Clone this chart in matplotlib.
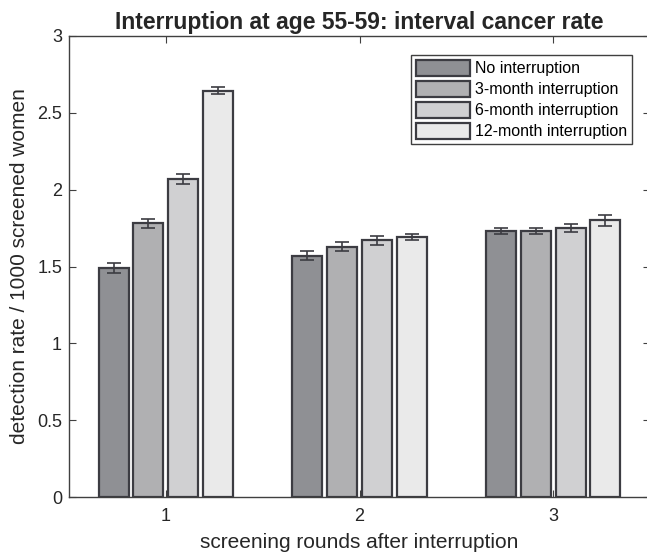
import matplotlib.pyplot as plt
import numpy as np

plt.rcParams['font.family'] = ['Liberation Sans', 'DejaVu Sans']

rounds = [1, 2, 3]
series_names = ['No interruption', '3-month interruption',
                '6-month interruption', '12-month interruption']
rates = [
    [1.49, 1.57, 1.73],
    [1.78, 1.63, 1.73],
    [2.07, 1.67, 1.75],
    [2.645, 1.69, 1.80],
]
errors = [
    [0.03, 0.03, 0.02],
    [0.03, 0.03, 0.02],
    [0.03, 0.03, 0.025],
    [0.02, 0.02, 0.035],
]
colors = ['#8f9094', '#b0b0b2', '#d0d0d2', '#eaeaea']
edge = '#3c3c42'

fig = plt.figure(figsize=(6.47, 5.55), dpi=100)
# right spine sits just past the image edge, as in the reference crop
ax = fig.add_axes([69 / 647, 1 - 497 / 555, 581 / 647, 461 / 555])

x = np.array(rounds, dtype=float)
step = 0.18
width = 0.155
for i, (name, vals, err, c) in enumerate(zip(series_names, rates, errors, colors)):
    pos = x + (i - 1.5) * step
    ax.bar(pos, vals, width, color=c, edgecolor=edge, linewidth=1.6, label=name)
    ax.errorbar(pos, vals, yerr=err, fmt='none', ecolor=edge, elinewidth=1.2,
                capsize=5, capthick=1.2)

ax.set_xlim(0.5, 3.5)
ax.set_ylim(0, 3)
ax.set_xticks(rounds)
ax.set_yticks([0, 0.5, 1, 1.5, 2, 2.5, 3])
ax.set_yticklabels(['0', '0.5', '1', '1.5', '2', '2.5', '3'])
ax.tick_params(direction='in', top=True, right=True, labelsize=13,
               colors='#404040', labelcolor='#262626', length=5)
ax.tick_params(axis='x', pad=8)
ax.tick_params(axis='y', pad=5)
for s in ax.spines.values():
    s.set_color('#404040')
    s.set_linewidth(1.0)

ax.set_xlabel('screening rounds after interruption', fontsize=15,
              color='#262626', labelpad=6)
ax.set_ylabel('detection rate / 1000 screened women', fontsize=15,
              color='#262626', labelpad=6)
ax.set_title('Interruption at age 55-59: interval cancer rate', fontsize=16.5,
             fontweight='bold', color='#262626', pad=5)

leg = ax.legend(loc='upper right', bbox_to_anchor=(0.969, 0.959), fontsize=11.5,
                handlelength=3.4, handleheight=1.15, handletextpad=0.3,
                labelspacing=0.3, borderpad=0.3, borderaxespad=0,
                fancybox=False, framealpha=1)
leg.get_frame().set_edgecolor('#404040')
leg.get_frame().set_linewidth(1.0)

fig.savefig('out.png', dpi=100)
